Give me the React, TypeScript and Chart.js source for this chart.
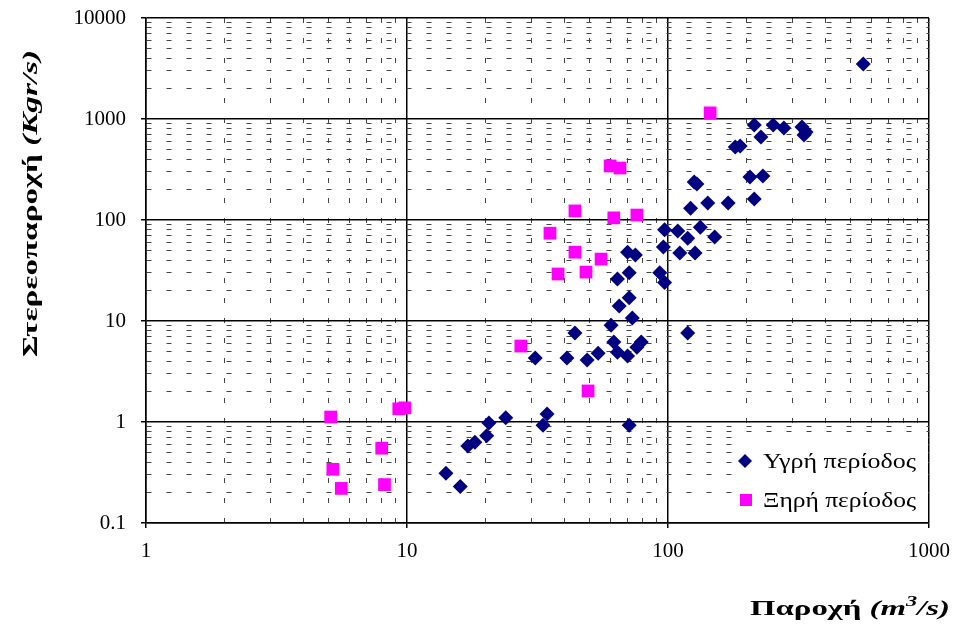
import React, { useEffect, useRef } from 'react';
import { Chart, registerables } from 'chart.js';

Chart.register(...registerables);

// Wet period (Υγρή περίοδος): discharge Q (m3/s) and sediment discharge Qs (Kgr/s)
const wetQ = [560, 214, 253, 278, 326, 338, 332, 227, 181, 189,
  126, 129, 206, 231, 122, 142, 170, 214,
  97, 109, 133, 119, 151, 96, 111, 127, 70, 75, 71, 64, 93, 97,
  71, 65, 73, 60.5, 44, 119,
  62, 79, 76, 64, 54, 70, 49, 41, 31,
  71, 34.4, 33.2, 23.9, 20.6, 20.2, 18.2, 17.1, 14.1, 16];
const wetQs = [3500, 871, 871, 815, 834, 743, 695, 664, 528, 541,
  238, 227, 267, 273, 131, 147, 147, 161,
  80, 78, 85, 66, 68, 54, 47, 47, 48, 45, 30, 26, 30, 24,
  17, 14.1, 10.7, 9.1, 7.6, 7.6,
  6.2, 6.2, 5.5, 4.9, 4.8, 4.5, 4.1, 4.3, 4.3,
  0.93, 1.2, 0.93, 1.1, 0.98, 0.73, 0.63, 0.58, 0.31, 0.23];

// Dry period (Ξηρή περίοδος)
const dryQ = [145, 60, 65.5, 44, 62, 76, 35.3, 44, 55.4, 37.9, 48.5, 27.3, 49.4, 9.3, 9.8, 5.1, 8.0, 5.2, 5.6, 8.2];
const dryQs = [1150, 343, 327, 123, 105, 112, 74, 48, 41, 29.2, 30.5, 5.65, 2.03, 1.35, 1.38, 1.12, 0.55, 0.34, 0.22, 0.24];

// Axis tick values (decades plus the minor 2..9 multiples)
const xDecades = [1, 10, 100];
const xMax = 1000;
const yDecades = [0.1, 1, 10, 100, 1000];
const yMax = 10000;
const minorMultipliers = [1, 2, 3, 4, 5, 6, 7, 8, 9];

const seriesNames = ['Υγρή περίοδος', 'Ξηρή περίοδος'];
const xTitleRuns = ['Παροχή ', '(m', '3', '/s)'];
const yTitleRuns = ['Στερεοπαροχή ', '(Kgr/s)'];

const buildTicks = (decades: number[], last: number) => {
  const out: number[] = [];
  decades.forEach((d) => minorMultipliers.forEach((m) => out.push(parseFloat((d * m).toPrecision(6)))));
  out.push(last);
  return out;
};
const xTicks = buildTicks(xDecades, xMax);
const yTicks = buildTicks(yDecades, yMax);

const isMajor = (v: number) => {
  const l = Math.log10(v);
  return Math.abs(l - Math.round(l)) < 1e-9;
};

const SERIF = '"Liberation Serif", "Times New Roman", serif';

function drawRuns(ctx: CanvasRenderingContext2D, runs: { text: string; font: string; dy?: number }[], targetWidth: number) {
  const widths = runs.map((r) => {
    ctx.font = r.font;
    return ctx.measureText(r.text).width;
  });
  const total = widths.reduce((a, b) => a + b, 0);
  const sx = targetWidth / total;
  ctx.save();
  ctx.scale(sx, 1);
  let cx = 0;
  runs.forEach((r, i) => {
    ctx.font = r.font;
    ctx.fillText(r.text, cx, r.dy || 0);
    cx += widths[i];
  });
  ctx.restore();
}

const decorPlugin = {
  id: 'decor',
  afterDatasetsDraw(chart: any) {
    const ctx: CanvasRenderingContext2D = chart.ctx;
    const area = chart.chartArea;
    ctx.save();
    // legend box (white, inside plot, lower right)
    const lx = area.right - 196;
    const ly = area.bottom - 86;
    ctx.fillStyle = '#ffffff';
    ctx.fillRect(lx, ly, area.right - lx - 1, area.bottom - ly - 1);
    // diamond
    const d1x = lx + 12, d1y = ly + 24;
    ctx.fillStyle = '#000080';
    ctx.beginPath();
    ctx.moveTo(d1x - 7, d1y);
    ctx.lineTo(d1x, d1y - 7);
    ctx.lineTo(d1x + 7, d1y);
    ctx.lineTo(d1x, d1y + 7);
    ctx.closePath();
    ctx.fill();
    // square
    const s2x = lx + 13, s2y = ly + 63;
    ctx.fillStyle = '#ff00ff';
    ctx.fillRect(s2x - 6, s2y - 6, 12, 12);
    ctx.fillStyle = '#000';
    ctx.textBaseline = 'alphabetic';
    ctx.save();
    ctx.translate(lx + 30, d1y + 7);
    drawRuns(ctx, [{ text: seriesNames[0], font: `21px ${SERIF}` }], 153);
    ctx.restore();
    ctx.save();
    ctx.translate(lx + 30, s2y + 7);
    drawRuns(ctx, [{ text: seriesNames[1], font: `21px ${SERIF}` }], 153);
    ctx.restore();
    ctx.restore();
  },
  afterDraw(chart: any) {
    const ctx: CanvasRenderingContext2D = chart.ctx;
    ctx.save();
    ctx.fillStyle = '#000';
    ctx.textBaseline = 'alphabetic';
    // x title
    ctx.save();
    ctx.translate(750, 615);
    drawRuns(ctx, [
      { text: xTitleRuns[0], font: `bold 22px ${SERIF}` },
      { text: xTitleRuns[1], font: `italic bold 22px ${SERIF}` },
      { text: xTitleRuns[2], font: `italic bold 15px ${SERIF}`, dy: -9 },
      { text: xTitleRuns[3], font: `italic bold 22px ${SERIF}` },
    ], 200);
    ctx.restore();
    // y title
    ctx.save();
    ctx.translate(37, 357);
    ctx.rotate(-Math.PI / 2);
    drawRuns(ctx, [
      { text: yTitleRuns[0], font: `bold 22px ${SERIF}` },
      { text: yTitleRuns[1], font: `italic bold 22px ${SERIF}` },
    ], 307);
    ctx.restore();
    ctx.restore();
  },
};

const gridColor = (ctx: any) => (ctx.tick && isMajor(ctx.tick.value) ? '#000' : '#444');
const gridWidth = (ctx: any) => (ctx.tick && isMajor(ctx.tick.value) ? 1.5 : 1);
const tickCol = (ctx: any) => (ctx.tick && isMajor(ctx.tick.value) ? '#000' : 'rgba(0,0,0,0)');
const dashFn = (ctx: any) => (ctx.tick && !isMajor(ctx.tick.value) ? [5, 15] : []);
const labelFn = (v: any) => (isMajor(Number(v)) ? String(Number(v)) : '');

export default function App() {
  const ref = useRef<HTMLCanvasElement | null>(null);
  useEffect(() => {
    if (!ref.current) return;
    const chart = new Chart(ref.current, {
      type: 'scatter',
      data: {
        datasets: [
          {
            label: seriesNames[0],
            data: wetQ.map((q, i) => ({ x: q, y: wetQs[i] })),
            pointStyle: 'rectRot',
            pointRadius: 7.5,
            backgroundColor: '#000080',
            borderColor: '#000080',
            borderWidth: 0,
          },
          {
            label: seriesNames[1],
            data: dryQ.map((q, i) => ({ x: q, y: dryQs[i] })),
            pointStyle: 'rect',
            pointRadius: 9,
            backgroundColor: '#ff00ff',
            borderColor: '#ff00ff',
            borderWidth: 0,
          },
        ],
      },
      options: {
        responsive: false,
        animation: false,
        layout: { padding: { top: 18, right: 24, left: 0, bottom: 0 } },
        plugins: { legend: { display: false }, tooltip: { enabled: false } },
        scales: {
          x: {
            type: 'logarithmic',
            min: 1,
            max: xMax,
            afterBuildTicks: (s: any) => { s.ticks = xTicks.map((v) => ({ value: v })); },
            afterFit: (s: any) => {
              s.height = 105;
              s.paddingLeft = 0;
              s.paddingRight = 0;
              s.paddingTop = 0;
              s.paddingBottom = 0;
            },
            ticks: {
              autoSkip: false,
              maxRotation: 0,
              padding: 11,
              color: '#000',
              font: { family: SERIF, size: 21 },
              callback: labelFn,
            },
            grid: { color: gridColor, lineWidth: gridWidth, tickLength: 5, tickColor: tickCol },
            border: { display: true, color: '#000', width: 1.5, dash: dashFn },
          },
          y: {
            type: 'logarithmic',
            min: yDecades[0],
            max: yMax,
            afterBuildTicks: (s: any) => { s.ticks = yTicks.map((v) => ({ value: v })); },
            afterFit: (s: any) => {
              s.width = 146;
              s.paddingLeft = 0;
              s.paddingRight = 0;
              s.paddingTop = 0;
              s.paddingBottom = 0;
            },
            ticks: {
              autoSkip: false,
              padding: 15,
              color: '#000',
              font: { family: SERIF, size: 21 },
              callback: labelFn,
            },
            grid: { color: gridColor, lineWidth: gridWidth, tickLength: 5, tickColor: tickCol },
            border: { display: true, color: '#000', width: 1.5, dash: dashFn },
          },
        },
      } as any,
      plugins: [decorPlugin],
    });
    return () => chart.destroy();
  }, []);
  return (
    <div style={{ position: 'absolute', left: 0, top: 0, width: 953, height: 628, background: '#fff' }}>
      <canvas ref={ref} width={953} height={628} />
    </div>
  );
}
